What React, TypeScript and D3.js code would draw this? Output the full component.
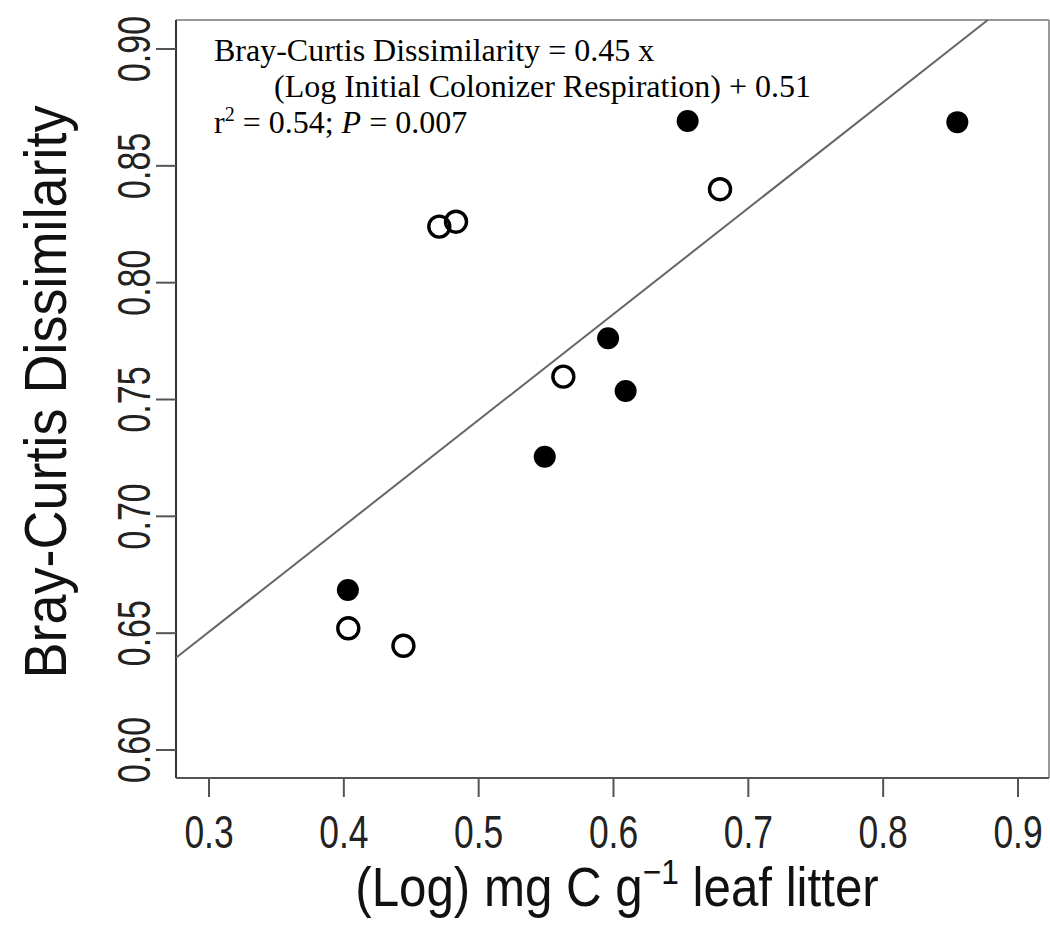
import React from "react";
import * as d3 from "d3";

const xTicks = [0.3, 0.4, 0.5, 0.6, 0.7, 0.8, 0.9];
const yTicks = [0.6, 0.65, 0.7, 0.75, 0.8, 0.85, 0.9];

const filledX = [0.403, 0.549, 0.596, 0.609, 0.655, 0.855];
const filledY = [0.6685, 0.7255, 0.7762, 0.7536, 0.8692, 0.8687];
const openX = [0.4033, 0.4442, 0.4708, 0.4832, 0.5628, 0.679];
const openY = [0.6521, 0.6446, 0.824, 0.8261, 0.7598, 0.84];

const regSlope = 0.4533;
const regIntercept = 0.5146;

const eqLines = [
  "Bray-Curtis Dissimilarity = 0.45 x",
  "(Log Initial Colonizer Respiration) + 0.51",
];

const W = 1050;
const H = 928;
const L = 176, R = 1049, T = 20, B = 778;

export default function App() {
  const x = d3.scaleLinear().domain([0.3, 0.9]).range([209, 1018]);
  const y = d3.scaleLinear().domain([0.6, 0.9]).range([750, 49]);
  const xMin = x.invert(L);
  const xMax = x.invert(R);
  const yMax = y.invert(T);
  const xTop = Math.min(xMax, (yMax - regIntercept) / regSlope);
  const linePath = d3.line<number>()
    .x((d) => x(d))
    .y((d) => y(regSlope * d + regIntercept))([xMin, xTop]);

  const sans = "'Liberation Sans', Arial, sans-serif";
  const serif = "'Liberation Serif', 'Times New Roman', serif";

  return (
    <svg width={W} height={H} style={{ position: "absolute", left: 0, top: 0, background: "#fff" }}>
      <rect x={0} y={0} width={W} height={H} fill="#fff" />
      {/* box */}
      <line x1={L} y1={T} x2={R} y2={T} stroke="#999" strokeWidth={2} />
      <line x1={R} y1={T} x2={R} y2={B} stroke="#999" strokeWidth={2} />
      <line x1={L} y1={T} x2={L} y2={B} stroke="#333" strokeWidth={2} />
      <line x1={L} y1={B} x2={R} y2={B} stroke="#555" strokeWidth={2} />
      {/* y ticks */}
      {yTicks.map((t) => (
        <g key={"y" + t}>
          <line x1={156} x2={L} y1={y(t)} y2={y(t)} stroke="#555" strokeWidth={2} />
          <text
            transform={`translate(150,${y(t)}) rotate(-90) scale(0.74,1)`}
            textAnchor="middle"
            fontFamily={sans}
            fontSize={46}
            fill="#222"
          >
            {t.toFixed(2)}
          </text>
        </g>
      ))}
      {/* x ticks */}
      {xTicks.map((t) => (
        <g key={"x" + t}>
          <line x1={x(t)} x2={x(t)} y1={B} y2={797} stroke="#555" strokeWidth={2} />
          <text
            transform={`translate(${x(t)},848) scale(0.77,1)`}
            textAnchor="middle"
            fontFamily={sans}
            fontSize={46}
            fill="#222"
          >
            {t.toFixed(1)}
          </text>
        </g>
      ))}
      {/* axis titles */}
      <text
        transform={`translate(66,392) rotate(-90) scale(0.9,1)`}
        textAnchor="middle"
        fontFamily={sans}
        fontSize={60}
        fill="#111"
      >
        Bray-Curtis Dissimilarity
      </text>
      <text
        transform={`translate(617,906) scale(0.88,1)`}
        textAnchor="middle"
        fontFamily={sans}
        fontSize={56}
        fill="#111"
      >
        (Log) mg C g
        <tspan dy={-22} fontSize={36}>−1</tspan>
        <tspan dy={22}> leaf litter</tspan>
      </text>
      {/* regression line */}
      <path d={linePath || ""} stroke="#666" strokeWidth={2} fill="none" />
      {/* points */}
      {filledX.map((v, i) => (
        <circle key={"f" + i} cx={x(v)} cy={y(filledY[i])} r={11} fill="#000" />
      ))}
      {openX.map((v, i) => (
        <circle key={"o" + i} cx={x(v)} cy={y(openY[i])} r={10.5} fill="none" stroke="#000" strokeWidth={3.4} />
      ))}
      {/* equation */}
      <text x={214} y={61} fontFamily={serif} fontSize={32} fill="#000">{eqLines[0]}</text>
      <text x={274} y={97} fontFamily={serif} fontSize={32} fill="#000">{eqLines[1]}</text>
      <text x={214} y={133} fontFamily={serif} fontSize={32} fill="#000">
        r<tspan dy={-12} fontSize={20}>2</tspan>
        <tspan dy={12}> = 0.54; </tspan>
        <tspan fontStyle="italic">P</tspan>
        <tspan> = 0.007</tspan>
      </text>
    </svg>
  );
}
